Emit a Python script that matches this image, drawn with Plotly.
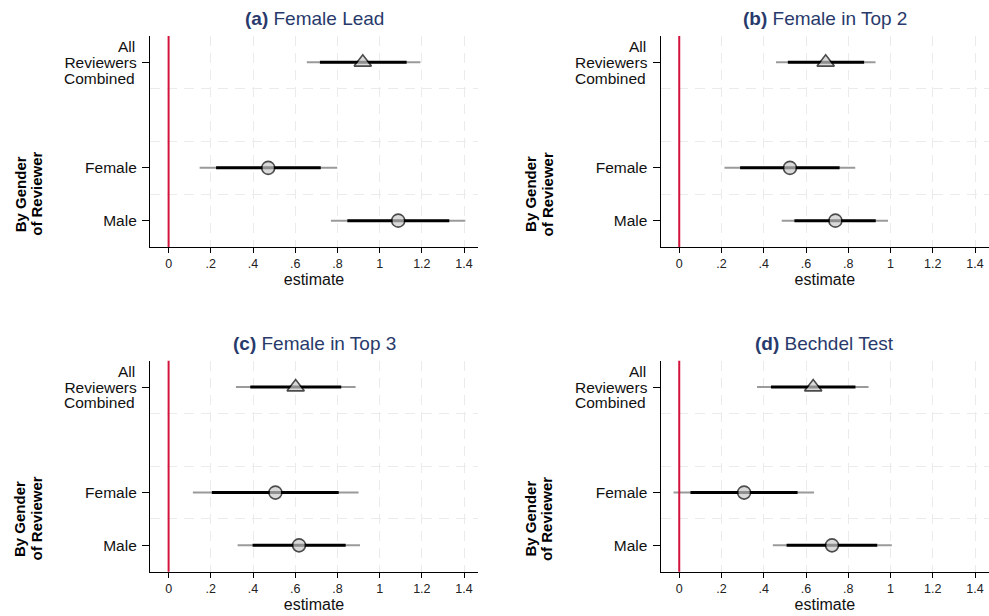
import plotly.graph_objects as go

# ---------------- data ----------------
panel_letters = ["(a)", "(b)", "(c)", "(d)"]
panel_names = ["Female Lead", "Female in Top 2", "Female in Top 3", "Bechdel Test"]
groups = ["All Reviewers Combined", "Female", "Male"]
group_label_lines = [["All", "Reviewers", "Combined"], ["Female"], ["Male"]]
axis_group_lines = ["By Gender", "of Reviewer"]

estimate = [
    [0.920, 0.472, 1.088],
    [0.693, 0.524, 0.739],
    [0.602, 0.506, 0.618],
    [0.634, 0.307, 0.723],
]
inner_lo = [
    [0.717, 0.225, 0.847],
    [0.514, 0.288, 0.545],
    [0.387, 0.205, 0.398],
    [0.434, 0.053, 0.508],
]
inner_hi = [
    [1.128, 0.721, 1.330],
    [0.875, 0.759, 0.930],
    [0.818, 0.806, 0.839],
    [0.834, 0.560, 0.937],
]
outer_lo = [
    [0.655, 0.147, 0.769],
    [0.458, 0.214, 0.485],
    [0.319, 0.115, 0.327],
    [0.368, -0.027, 0.443],
]
outer_hi = [
    [1.193, 0.799, 1.406],
    [0.929, 0.833, 0.988],
    [0.886, 0.900, 0.907],
    [0.896, 0.638, 1.006],
]
x_tickvals = [0, 0.2, 0.4, 0.6, 0.8, 1.0, 1.2, 1.4]
x_ticktext = ["0", ".2", ".4", ".6", ".8", "1", "1.2", "1.4"]

# ---------------- layout helpers ----------------
FONT = "Liberation Sans, Arial, Helvetica, sans-serif"
TITLE_COLOR = "#283a6b"
GRID = "#ebebeb"
ypos = [4, 2, 1]            # combined row on top, gap, then Female / Male
LINE_STEP = 0.30            # vertical spacing (data units) for stacked label lines
marker_symbols = ["triangle-up", "circle", "circle"]
marker_sizes = [15, 13, 13]

x_domains = [[0.1517, 0.4833], [0.668, 1.0], [0.1517, 0.4833], [0.668, 1.0]]
y_domains = [[0.599, 0.9416], [0.599, 0.9416], [0.0719, 0.4144], [0.0719, 0.4144]]
W = 989.0

fig = go.Figure()

for p in range(4):
    sfx = "" if p == 0 else str(p + 1)
    xa, ya = "x" + sfx, "y" + sfx

    # outer CI (gray)
    xs, ys = [], []
    for i in range(3):
        xs += [outer_lo[p][i], outer_hi[p][i], None]
        ys += [ypos[i], ypos[i], None]
    fig.add_trace(go.Scatter(x=xs, y=ys, mode="lines", xaxis=xa, yaxis=ya,
                             line=dict(color="#9a9a9a", width=2), showlegend=False,
                             hoverinfo="skip"))
    # inner CI (black)
    xs, ys = [], []
    for i in range(3):
        xs += [inner_lo[p][i], inner_hi[p][i], None]
        ys += [ypos[i], ypos[i], None]
    fig.add_trace(go.Scatter(x=xs, y=ys, mode="lines", xaxis=xa, yaxis=ya,
                             line=dict(color="#000000", width=3), showlegend=False,
                             hoverinfo="skip"))
    # point estimates
    fig.add_trace(go.Scatter(x=estimate[p], y=ypos, mode="markers", xaxis=xa, yaxis=ya,
                             text=groups, hovertemplate="%{text}: %{x}<extra></extra>",
                             marker=dict(symbol=marker_symbols, size=marker_sizes,
                                         color="#cbcbcb",
                                         line=dict(color="#000000", width=1.6)),
                             showlegend=False))

    # tick text: the middle line of each label sits on the tick
    ticktext = [lines[len(lines) // 2] for lines in group_label_lines]

    fig.update_layout({
        "xaxis" + sfx: dict(
            domain=x_domains[p], anchor=ya, range=[-0.088, 1.466],
            tickvals=x_tickvals, ticktext=x_ticktext,
            showline=True, linecolor="#000000", linewidth=1.3, mirror=False,
            ticks="outside", ticklen=5, tickwidth=1.3, tickcolor="#000000",
            tickfont=dict(size=12.5, color="#222222", family=FONT),
            showgrid=True, gridcolor=GRID, gridwidth=1.3, griddash="10px,7px",
            zeroline=False,
            title=dict(text="estimate", font=dict(size=16, color="#111111", family=FONT),
                       standoff=3),
        ),
        "yaxis" + sfx: dict(
            domain=y_domains[p], anchor=xa, range=[0.5, 4.5],
            tickvals=ypos, ticktext=ticktext,
            showline=True, linecolor="#000000", linewidth=1.3,
            ticks="outside", ticklen=7, tickwidth=1.3, tickcolor="#000000",
            tickfont=dict(size=15.5, color="#111111", family=FONT),
            ticklabelstandoff=2,
            showgrid=False, zeroline=False,
            minor=dict(tickvals=[1.5, 2.5, 3.5], showgrid=True, gridcolor=GRID,
                       gridwidth=1.3, griddash="10px,7px", ticks=""),
        ),
    })

    # extra lines of multi-line group labels, tightly stacked
    label_right = x_domains[p][0] - 13 / W
    for i, lines in enumerate(group_label_lines):
        mid = len(lines) // 2
        for k, txt in enumerate(lines):
            if k == mid:
                continue
            fig.add_annotation(text=txt, xref="paper", yref=ya, x=label_right,
                               y=ypos[i] + (mid - k) * LINE_STEP,
                               xanchor="right", yanchor="middle", showarrow=False,
                               font=dict(size=15.5, color="#111111", family=FONT))

    # reference line at zero
    fig.add_shape(type="line", x0=0, x1=0, y0=0, y1=1, xref=xa, yref=ya + " domain",
                  line=dict(color="#d2143c", width=2), layer="above")

    # panel title
    xc = (x_domains[p][0] + x_domains[p][1]) / 2
    ty = y_domains[p][1] + 0.028
    fig.add_annotation(text="<b>" + panel_letters[p] + "</b> " + panel_names[p],
                       xref="paper", yref="paper", x=xc, y=ty,
                       xanchor="center", yanchor="middle", showarrow=False,
                       font=dict(size=19, color=TITLE_COLOR, family=FONT))

    # group label (two rotated lines)
    base_x = x_domains[p][0] - 130 / W
    for k, txt in enumerate(axis_group_lines):
        fig.add_annotation(text="<b>" + txt + "</b>", textangle=-90,
                           xref="paper", yref=ya, x=base_x + k * 16.5 / W, y=1.5,
                           xanchor="center", yanchor="middle", showarrow=False,
                           font=dict(size=15, color="#000000", family=FONT))

fig.update_layout(
    width=989, height=616,
    margin=dict(l=0, r=0, t=0, b=0),
    paper_bgcolor="white", plot_bgcolor="white",
    font=dict(family=FONT),
)

fig.write_html("out.html")
